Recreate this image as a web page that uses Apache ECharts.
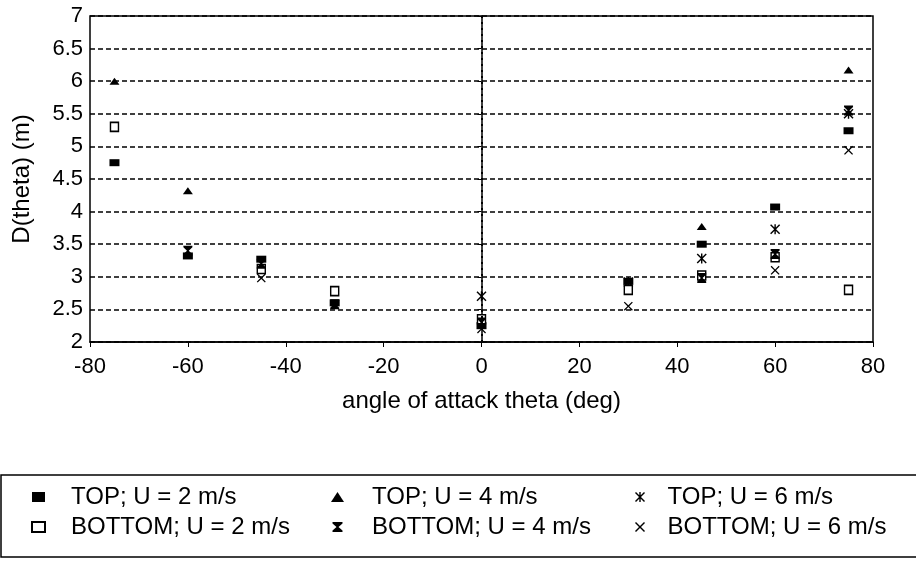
<!DOCTYPE html>
<html>
<head>
<meta charset="utf-8">
<script src="https://cdn.jsdelivr.net/npm/echarts@6/dist/echarts.min.js"></script>
<style>
  html, body { margin: 0; padding: 0; background: #fff; }
  #main { width: 916px; height: 565px; }
</style>
</head>
<body>
<div id="main"></div>
<script>
// values: [angle (deg), D(theta) (m)]
const topU2 = [[-75, 4.75], [-60, 3.32], [-45, 3.27], [-30, 2.6], [0, 2.25], [30, 2.93], [45, 3.5], [60, 4.07], [75, 5.24]];
const topU4 = [[-75, 6.0], [-60, 4.32], [45, 3.77], [75, 6.17]];
const topU6 = [[0, 2.7], [30, 2.92], [45, 3.28], [60, 3.73], [75, 5.5]];
const bottomU2 = [[-75, 5.3], [-45, 3.12], [-30, 2.78], [0, 2.35], [30, 2.8], [45, 3.02], [60, 3.3], [75, 2.8]];
const bottomU4 = [[-60, 3.4], [-45, 3.2], [-30, 2.58], [0, 2.3], [45, 2.98], [60, 3.35], [75, 5.55]];
const bottomU6 = [[-45, 2.98], [0, 2.2], [30, 2.55], [60, 3.1], [75, 4.94]];

const seriesNames = ['TOP; U = 2 m/s', 'TOP; U = 4 m/s', 'TOP; U = 6 m/s',
  'BOTTOM; U = 2 m/s', 'BOTTOM; U = 4 m/s', 'BOTTOM; U = 6 m/s'];

const FONT = 'Liberation Sans, Arial, sans-serif';

const MyChart = echarts.init(document.getElementById('main'));

const star = 'path://M0,1L1,0L5,4L9,0L10,1L6,5L10,9L9,10L5,6L1,10L0,9L4,5Z M4.3,0L5.7,0L5.7,10L4.3,10Z';
const hourglass = 'path://M0,0L10,0L10,1.5L6,5L10,8.5L10,10L0,10L0,8.5L4,5L0,1.5Z';
const cross = 'path://M0,1L1,0L5,4L9,0L10,1L6,5L10,9L9,10L5,6L1,10L0,9L4,5Z';

function sc(name, data, symbol, size, fill) {
  return {
    name: name,
    type: 'scatter',
    data: data,
    symbol: symbol,
    symbolSize: size,
    itemStyle: { color: fill, borderColor: '#000', borderWidth: fill === '#fff' ? 1.5 : 0, opacity: 1 }
  };
}

let series = [
  sc(seriesNames[0], topU2, 'rect', [10, 7], '#000'),
  sc(seriesNames[1], topU4, 'triangle', [10, 7], '#000'),
  sc(seriesNames[2], topU6, star, 10, '#000'),
  sc(seriesNames[3], bottomU2, 'rect', [8, 9], '#fff'),
  sc(seriesNames[4], bottomU4, hourglass, [9, 10], '#000'),
  sc(seriesNames[5], bottomU6, cross, 9, '#000')
];

// dotted vertical line at theta = 0
series[0].markLine = {
  silent: true,
  symbol: 'none',
  label: { show: false },
  lineStyle: { color: '#000', type: [2, 4], width: 2 },
  data: [{ xAxis: 0 }]
};

function legendCol(left, names, pad) {
  return {
    orient: 'vertical',
    left: left,
    top: 480,
    itemGap: 6,
    itemWidth: 13,
    itemHeight: 10,
    textStyle: { fontFamily: FONT, fontSize: 24, color: '#000', padding: [0, 0, 0, pad] },
    selectedMode: false,
    data: names
  };
}

let option = {
  animation: false,
  backgroundColor: '#fff',
  grid: { left: 90, right: 43, top: 16, bottom: 223, show: true, borderColor: '#000', borderWidth: 1.5 },
  xAxis: {
    type: 'value',
    min: -80, max: 80, interval: 20,
    name: 'angle of attack theta (deg)',
    nameLocation: 'middle',
    nameGap: 47,
    nameTextStyle: { fontFamily: FONT, fontSize: 24, color: '#000' },
    axisLine: { show: true, lineStyle: { color: '#000', width: 1.5 } },
    axisTick: { show: true, length: 5, lineStyle: { color: '#000' } },
    axisLabel: { fontFamily: FONT, fontSize: 22, color: '#000', margin: 14 },
    splitLine: { show: false }
  },
  yAxis: {
    type: 'value',
    min: 2, max: 7, interval: 0.5,
    name: 'D(theta) (m)',
    nameLocation: 'middle',
    nameRotate: 90,
    nameGap: 56,
    nameTextStyle: { fontFamily: FONT, fontSize: 24, color: '#000' },
    axisLine: { show: true, lineStyle: { color: '#000', width: 1.5 } },
    axisTick: { show: true, length: 4, lineStyle: { color: '#000' } },
    axisLabel: { fontFamily: FONT, fontSize: 22, color: '#000', margin: 7 },
    splitLine: { show: true, lineStyle: { color: '#000', type: [5, 3], width: 1.5 } }
  },
  legend: [
    legendCol(26, [seriesNames[0], seriesNames[3]], 21),
    legendCol(326, [seriesNames[1], seriesNames[4]], 23),
    legendCol(630, [seriesNames[2], seriesNames[5]], 16)
  ],
  graphic: [{
    type: 'rect',
    shape: { x: 1, y: 475, width: 930, height: 82 },
    style: { fill: 'none', stroke: '#000', lineWidth: 1.5 }
  }],
  series: series
};

MyChart.setOption(option);
</script>
</body>
</html>
